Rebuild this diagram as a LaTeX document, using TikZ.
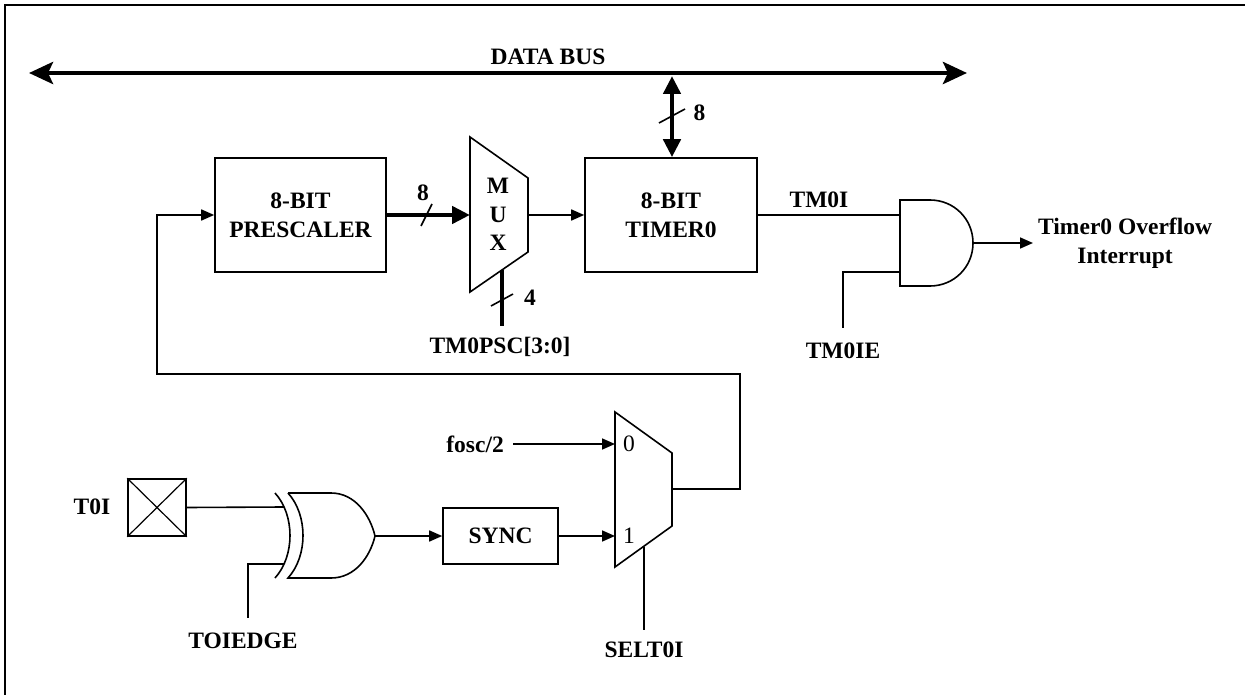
\documentclass[tikz,border=0pt]{standalone}
\usepackage{fontspec}
\setmainfont{Liberation Serif}
\usetikzlibrary{arrows.meta}
\begin{document}
\begin{tikzpicture}[x=1pt,y=-1pt,
  wire/.style={line width=1.6pt},
  bus/.style={line width=4.5pt},
  arr/.style={-{Triangle[length=13pt,width=11pt]}},
  busarr/.style={-{Triangle[length=18pt,width=17pt]}},
  dbarr/.style={{Triangle[length=18pt,width=17pt]}-{Triangle[length=18pt,width=17pt]}},
  mainbus/.style={{Stealth[length=24pt,width=22pt,inset=5pt]}-{Stealth[length=24pt,width=22pt,inset=5pt]}},
  lbl/.style={font=\fontsize{23.5}{29}\selectfont\bfseries, inner sep=0pt, align=center},
  rlbl/.style={font=\fontsize{23.5}{29}\selectfont, inner sep=0pt},
  blk/.style={draw, line width=1.6pt, rectangle, inner sep=0pt, align=center,
              font=\fontsize{23.5}{29}\selectfont\bfseries},
  gate/.style={draw, line width=1.6pt, fill=white}
]
\useasboundingbox (0,0) rectangle (1245,695);
% frame
\draw[line width=2.5pt] (1250,5) -- (5,5) -- (5,700);

% data bus
\coordinate (busL) at (29,73);
\coordinate (busR) at (967,73);
\draw[bus, mainbus] (busL) -- (busR);
\node[lbl] (databus) at (548,57) {DATA BUS};

% blocks
\node[blk, minimum width=171pt, minimum height=114pt] (pre) at (300.5,215) {8-BIT\\PRESCALER};
\node[blk, minimum width=172pt, minimum height=114pt] (tmr) at (671,215) {8-BIT\\TIMER0};
\node[blk, minimum width=115pt, minimum height=56pt] (sync) at (500.5,536) {SYNC};

% vertical bus to timer
\coordinate (tap) at (672,76);
\draw[bus, dbarr] (tap) -- (tmr.north -| tap);
\draw[wire] (659,123) -- (685,109);
\node[lbl] (b8a) at (699.5,113) {8};

% MUX 1
\coordinate (m1a) at (470,137);
\coordinate (m1b) at (528,178);
\coordinate (m1c) at (528,252);
\coordinate (m1d) at (470,292);
\draw[gate] (m1a) -- (m1b) -- (m1c) -- (m1d) -- cycle;
\coordinate (m1in) at (470,215);
\coordinate (m1out) at (528,215);
\coordinate (m1sel) at (502,270);
\coordinate (pscend) at (502,326);
\node[lbl] (mM) at (498,186) {M};
\node[lbl] (mU) at (498,215) {U};
\node[lbl] (mX) at (498,243) {X};

\draw[bus, busarr] (pre.east) -- (m1in);
\draw[wire] (421,226) -- (432,204);
\node[lbl] (b8b) at (423,193) {8};
\draw[wire, arr] (m1out) -- (tmr.west);

\draw[bus] (m1sel) -- (pscend);
\draw[wire] (491,306) -- (513,294);
\node[lbl] (b4) at (530,298) {4};
\node[lbl] (psc) at (500,347) {TM0PSC[3:0]};

% AND gate
\draw[gate] (900,200) -- (930,200) .. controls (954,200) and (973,219) .. (973,243)
  .. controls (973,267) and (954,286) .. (930,286) -- (900,286) -- cycle;
\coordinate (andin1) at (900,215);
\coordinate (andin2) at (900,272);
\coordinate (andout) at (973,243);
\coordinate (ieend) at (843,328);
\coordinate (ovf) at (1033,243);
\draw[wire] (tmr.east) -- (andin1);
\node[lbl] (tm0i) at (819,200) {TM0I};
\draw[wire] (andin2) -| (ieend);
\node[lbl] (tm0ie) at (843,351) {TM0IE};
\draw[wire, arr] (andout) -- (ovf);
\node[lbl, anchor=west] (ovflbl) at (1038,243) {Timer0 Overflow\\Interrupt};

% MUX 2
\coordinate (m2a) at (615,412);
\coordinate (m2b) at (672,453);
\coordinate (m2c) at (672,526);
\coordinate (m2d) at (615,567);
\draw[gate] (m2a) -- (m2b) -- (m2c) -- (m2d) -- cycle;
\coordinate (m2in0) at (615,444);
\coordinate (m2in1) at (615,536);
\coordinate (m2out) at (672,489);
\coordinate (m2sel) at (644,547);
\coordinate (selend) at (644,630);
\node[rlbl] (z0) at (629,444) {0};
\node[rlbl] (z1) at (629,536) {1};

\node[lbl, anchor=east] (fosc) at (504,444) {fosc/2};
\draw[wire, arr] ([xshift=9pt]fosc.east) -- (m2in0);
\draw[wire, arr] (sync.east) -- (m2in1);
\draw[wire] (m2sel) -- (selend);
\node[lbl] (selt0i) at (644,650) {SELT0I};

% feedback from MUX2 to prescaler
\draw[wire, arr] (m2out) -- (740,489) -- (740,374) -- (157,374) |- (pre.west);

% XOR gate
\draw[gate] (288,493) -- (331,493) .. controls (355,493) and (370,515) .. (375,536)
  .. controls (370,557) and (355,578) .. (331,578) -- (288,578)
  .. controls (308,556) and (308,515) .. (288,493);
\draw[wire] (275,493) .. controls (295,515) and (295,556) .. (275,578);
\coordinate (xin1) at (284,507);
\coordinate (xin2) at (284,564);
\coordinate (xout) at (375,536);
\coordinate (edgeend) at (248,618);
\draw[wire, arr] (xout) -- (sync.west);

% input pad
\node[draw, line width=1.6pt, minimum width=58pt, minimum height=57pt, inner sep=0pt] (pad) at (157,507.5) {};
\draw[line width=1.2pt] (pad.north west) -- (pad.south east) (pad.north east) -- (pad.south west);
\node[lbl] (t0i) at (92,507) {T0I};
\draw[wire] (pad.east) -- (xin1);
\draw[wire] (xin2) -| (edgeend);
\node[lbl] (toiedge) at (243,641) {TOIEDGE};
\end{tikzpicture}
\end{document}
